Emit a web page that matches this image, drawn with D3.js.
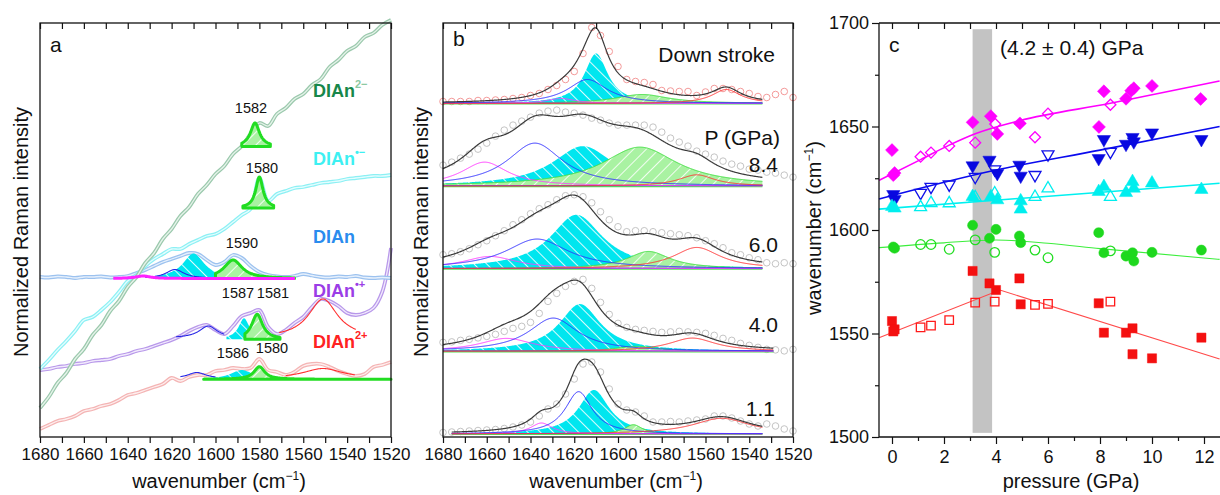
<!DOCTYPE html>
<html><head><meta charset="utf-8">
<script src="https://cdn.jsdelivr.net/npm/d3@7/dist/d3.min.js"></script>
<style>
html,body{margin:0;padding:0;background:#fff;}
svg{display:block;}
text{font-family:"Liberation Sans",Arial,Helvetica,sans-serif;fill:#111;}
</style></head><body>
<svg id="chart" width="1220" height="495"></svg>
<script>
// ================= DATA =================
// shared wavenumber grid (cm^-1) for spectra and data points
const gridW = [1680,1676,1672,1668,1664,1660,1656,1652,1648,1644,1640,1636,1632,1628,1624,1620,1616,1612,1608,1604,1600,1596,1592,1588,1584,1580,1576,1572,1568,1564,1560,1556,1552,1548,1544,1540,1536,1532,1528,1524,1520];
const wnTicksMajor = [1680,1660,1640,1620,1600,1580,1560,1540,1520];
const wnTicksAll = [1680,1670,1660,1650,1640,1630,1620,1610,1600,1590,1580,1570,1560,1550,1540,1530,1520];

// ---- panel a: spectra (normalized intensity, offset) ----
const aDianDianion = [2.9,4.0,5.4,6.4,7.8,8.8,10.2,11.2,12.6,13.6,15.0,16.0,17.4,18.4,19.8,20.8,22.1,23.0,24.3,25.2,26.3,27.1,28.3,29.1,30.3,31.4,31.1,32.3,32.9,33.8,34.3,35.2,35.8,37.0,37.7,38.6,39.1,40.0,40.4,41.2,41.7];
const aDianRadAnion = [6.8,7.7,8.7,9.6,10.6,11.7,12.0,12.7,13.5,14.5,15.6,16.2,17.1,17.8,18.3,18.8,18.8,19.3,19.7,20.1,20.3,20.8,21.5,22.2,22.8,25.9,23.6,24.3,24.6,24.9,25.0,25.2,25.4,25.5,25.6,25.8,25.9,26.0,26.1,26.1,26.2];
const aDian = [16.0,15.95,16.05,16.0,15.9,16.0,16.0,16.05,15.95,16.0,16.1,16.4,16.7,17.1,17.5,17.8,18.1,18.4,18.3,17.7,17.2,17.5,18.2,17.9,17.1,16.5,16.2,16.05,16.0,16.1,16.3,16.15,16.0,15.95,16.05,16.0,16.1,15.95,15.9,15.95,15.9];
const aDianRadCation = [6.7,6.8,7.0,7.1,7.3,7.4,7.6,7.7,7.8,8.1,8.3,8.6,8.8,9.1,9.4,9.7,10.1,10.6,11.0,11.2,10.7,10.3,11.1,12.1,12.4,12.7,11.0,10.3,10.7,11.4,12.0,13.0,13.8,13.6,13.1,12.4,12.2,12.4,12.9,14.5,18.9];
const aDianDication = [0.8,1.2,1.6,1.8,2.1,2.6,2.8,3.1,3.3,3.7,4.2,4.4,4.7,5.0,5.3,5.9,5.6,6.0,6.2,6.2,6.6,6.7,6.9,6.8,6.9,7.8,6.7,6.5,6.2,6.5,7.1,7.3,7.3,7.0,6.6,6.3,6.1,6.3,7.0,7.2,7.5];
// panel a fitted peaks: [center, height, hwhm, base, from, to]
const aGreenPeaks = [[1582,2.35,2.5,29.05,1588,1575],[1580,3.1,2,22.9,1587.5,1573.5],[1592,1.85,5,15.85,1600,1564],[1581,2.5,3,9.77,1586.6,1570.6],[1580,1.26,3,5.77,1605.4,1520]];
const aCyanPeaks = [[1610,2.5,6,15.85,1628,1594],[1587,2.1,3,9.77,1595,1582],[1588,0.93,6,5.77,1605,1583]];
const aBluePeaks = [[1618.5,0.9,5,15.85,1632,1600],[1603.3,1.2,5,9.9,1618,1596],[1608.5,0.6,5,5.85,1616,1600]];
const aRedPeaks = [[1551,3.9,8,9.9,1571,1536],[1551,1.0,11,5.85,1568,1536.5]];
const aMagentaPeaks = [[1633,0.25,4,15.85,1646.6,1563.8]];
const aPeakLabels = ["1582","1580","1590","1587","1581","1586","1580"];

// ---- panel b: data points per pressure (heights above row baseline) ----
const bDown = [2,2,2,2,3,3,3.5,4,5,6,8,10,14,18,24,32,50,76,68,52,37,24,22,21,19,13,12.5,12,12,8,11.5,15,15,14,12,10,7,6,9,12,6];
const b84 = [21,24,28,32,37,43,50,56,61,65,69,73,75,76,74,73,71,68,66,63,61,61,61,61,59,54,48,44,40,35,32,29,25,22,20,17,16,14,13,11,9];
const b60 = [14,15,17,20,24,28,33,38,44,49,55,60,64,69,73,74,72,66,57,49,42,37,38,38,37,36,35,34,33,31,28,25,21,16,14,11,9,6,5,6,5];
const b40 = [9,9.5,11,12,13.5,15,17,20,23,25,29,38,50,58,65,70,72,63,49,37,28,24,22,21,20,19,19.5,20,19.5,19,18,16,13,11,8,6,4,2,1.5,0.5,2];
const b11 = [1.5,2,2.5,3,3.5,4,4.5,5.5,7,9,12,18,25,30,40,55,70,72,62,45,30,24,22,18,12,12,12.5,12,13,14,15,18,18,16,13,10,8,10,8,5,3];
// panel b fitted components per row: [center, height, hwhm]
const bMagenta = [[1626,5,8],[1661,24,13],[1658.5,12.3,15],[1651,13,15],[1635,11,6]];
const bBlue = [[1614,24,11],[1638,43,15.5],[1637,29.7,17.5],[1629.6,33.3,13.7],[1618,42.3,7.5]];
const bCyan = [[1610,50,6.5],[1616,40,17],[1619,54,14.5],[1617.4,47.3,11.5],[1611,44,8.5]];
const bGreen = [[1589,9,15],[1590,39,21],[1586,17.3,12],[1591.5,5,12],[1593,9.3,5]];
const bRed = [[1550.5,14,8],[1564,11.3,10],[1564,21.3,13],[1566,13.3,13],[1552.6,15.7,16]];
const bFitFrom = [1680,1680,1680,1680,1676];
const bFitTo = [1534,1534,1534,1529,1534];
const bRowLabels = ["Down stroke","8.4","6.0","4.0","1.1"];

// ---- panel c: peak positions vs pressure [GPa, cm^-1] ----
const cMagFilled = [[0,1638.6],[0.1,1627.5],[0.05,1626.5],[3.1,1652],[3.8,1655],[4.05,1646.4],[4.92,1651.5],[7.96,1649.8],[8.15,1667],[9.0,1663.4],[9.2,1667.3],[9.3,1668.5],[10.0,1669.6],[11.87,1663.3]];
const cMagOpen = [[1.1,1635.4],[1.5,1637.4],[2.2,1640.6],[3.2,1642.2],[3.97,1651.2],[5.5,1644.8],[6.0,1656.2],[8.4,1660.5]];
const cBlueFilled = [[0.05,1617.2],[0.1,1614.8],[3.1,1631.1],[3.75,1633.8],[4.05,1627.4],[4.9,1631.4],[4.95,1626.1],[7.95,1634.6],[8.15,1643.8],[9.0,1641.5],[9.25,1644.8],[9.3,1642.7],[10.0,1647],[11.9,1643.8]];
const cBlueOpen = [[1.1,1618],[1.5,1620.9],[2.2,1622],[3.2,1625.7],[3.95,1629.3],[5.5,1626.6],[6.0,1636.6],[8.4,1637.8]];
const cCyanFilled = [[0,1611.3],[0.1,1610.5],[3.1,1616.1],[3.8,1616],[4.05,1614.5],[4.95,1614],[4.95,1610],[7.95,1618.5],[8.15,1620.9],[9.0,1618],[9.25,1623.3],[9.3,1620.1],[10.0,1622.6],[11.9,1619.5]];
const cCyanOpen = [[1.1,1611],[1.5,1613],[2.2,1612.9],[3.2,1615.8],[3.95,1617.7],[5.5,1616],[6.0,1620.1],[8.4,1616]];
const cGreenFilled = [[0.05,1591.8],[0.1,1591.2],[3.1,1602.3],[3.75,1596],[4.0,1600.3],[4.9,1597.1],[4.95,1593.9],[7.95,1598.7],[8.15,1589],[9.0,1587.4],[9.25,1589],[9.3,1585],[10.0,1589.2],[11.9,1590.3]];
const cGreenOpen = [[1.1,1593],[1.5,1593],[2.2,1590.7],[3.2,1595.2],[3.95,1589.2],[5.5,1590.3],[6.0,1586.6],[8.4,1589.9]];
const cRedFilled = [[0,1556],[0.1,1552],[0.05,1551],[3.1,1580.2],[3.75,1574.2],[4.0,1571],[4.9,1576.6],[4.95,1564.1],[7.95,1564.6],[8.15,1550.4],[9.0,1550.4],[9.25,1552.5],[9.25,1540],[10.0,1538],[11.9,1548]];
const cRedOpen = [[1.1,1553],[1.5,1553.8],[2.2,1556.5],[3.2,1564.9],[3.95,1565.4],[5.5,1563.8],[6.0,1564.3],[8.4,1565.4]];
const cMagFit = [[-0.5,1624],[1.1,1634],[2.2,1641],[3.2,1646.5],[4.9,1652.8],[8.4,1661.2],[12.6,1672]];
const cBlueFit = [[-0.5,1615],[4,1629],[8,1638.6],[12.6,1650]];
const cCyanFit = [[-0.5,1610.1],[12.6,1622.6]];
const cGreenFit = [[-0.5,1591.5],[2,1593.8],[4,1595.2],[6,1593.6],[8,1591],[12.6,1585.8]];
const cRedFit = [[-0.5,1548],[4.15,1571],[12.6,1537.7]];
const cBand = [3.1,3.85];
const cBandRange = [1502,1697];
const cXTicks = [0,2,4,6,8,10,12];
const cXMinor = [1,3,5,7,9,11];
const cXAll = [0,1,2,3,4,5,6,7,8,9,10,11,12];
const cYTicks = [1500,1550,1600,1650,1700];
const cYMinor = [1525,1575,1625,1675];

// ================= DRAWING =================
const svg = d3.select("#chart");
const defs = svg.append("defs");
function hatch(id, bg, angle){
  const p = defs.append("pattern").attr("id",id).attr("patternUnits","userSpaceOnUse")
    .attr("width",9).attr("height",9).attr("patternTransform",`rotate(${angle})`);
  p.append("rect").attr("width",9).attr("height",9).attr("fill",bg);
  p.append("line").attr("x1",4.5).attr("y1",-1).attr("x2",4.5).attr("y2",10)
    .attr("stroke","#fff").attr("stroke-width",1).attr("stroke-opacity",0.85);
}
hatch("hC","#00e6ef",-45);
hatch("hG","#a9f2a2",45);

const lor = (c,h,g,w) => h/(1+((w-c)/g)**2);
function samples(from,to){ const n=Math.max(2,Math.ceil(Math.abs(from-to)/0.25)); const a=[]; for(let k=0;k<=n;k++) a.push(from+(to-from)*k/n); return a; }

function wnTitle(g, x, y, rot){
  const t = g.append("text").attr("font-size",20).attr("text-anchor","middle")
    .attr("transform", rot ? `translate(${x},${y}) rotate(-90)` : `translate(${x},${y})`);
  t.append("tspan").text("wavenumber (cm");
  t.append("tspan").text("\u22121").attr("font-size",12).attr("dy",-8);
  t.append("tspan").text(")").attr("dy",8);
}
function wnAxes(g, x, top, bottom){
  const ax = d3.axisBottom(x).tickValues(wnTicksAll).tickSize(6).tickPadding(5)
    .tickFormat(d => wnTicksMajor.includes(d) ? d3.format("d")(d) : "");
  const gb = g.append("g").attr("transform",`translate(0,${bottom})`).call(ax);
  gb.select(".domain").remove();
  gb.selectAll("text").attr("font-size",17).attr("font-family",'"Liberation Sans",Arial,sans-serif').attr("fill","#111");
  gb.selectAll("line").attr("stroke","#111").attr("stroke-width",1.2);
  const gt = g.append("g").attr("transform",`translate(0,${top})`)
    .call(d3.axisBottom(x).tickValues(wnTicksAll).tickSize(6).tickFormat(""));
  gt.select(".domain").remove();
  gt.selectAll("line").attr("stroke","#111").attr("stroke-width",1.2);
}

// ---------- PANEL A ----------
const xA = d3.scaleLinear().domain([1680,1520]).range([40,391]);
const yA = d3.scaleLinear().domain([0,41.4]).range([437,23]);
const gA = svg.append("g");
const specLineA = d3.line().x((d,i)=>xA(gridW[i])).y(d=>yA(d)).curve(d3.curveCatmullRom);
[[aDianDication,"#f4b4b4","#fdeeee"],[aDianRadCation,"#b898ea","#f1eafc"],[aDian,"#9cc2ef","#e6f0fc"],
 [aDianRadAnion,"#8cf0f4","#e4fdfe"],[aDianDianion,"#9bc9ad","#e6f3ea"]].forEach(([v,c1,c2])=>{
  gA.append("path").attr("d",specLineA(v)).attr("fill","none").attr("stroke",c1).attr("stroke-width",3.8);
  gA.append("path").attr("d",specLineA(v)).attr("fill","none").attr("stroke",c2).attr("stroke-width",1.3);
});
function peakA(p){ const [c,h,g,base,from,to]=p; return samples(from,to).map(w=>({w,y0:base,y1:base+lor(c,h,g,w)})); }
const areaA = d3.area().x(d=>xA(d.w)).y0(d=>yA(d.y0)).y1(d=>yA(d.y1));
const lineA = d3.line().x(d=>xA(d.w)).y(d=>yA(d.y1));
aCyanPeaks.forEach(p=>gA.append("path").attr("d",areaA(peakA(p))).attr("fill","url(#hC)"));
aGreenPeaks.forEach(p=>gA.append("path").attr("d",areaA(peakA(p))).attr("fill","url(#hG)")
  .attr("stroke","#22dd22").attr("stroke-width",3).attr("stroke-linejoin","round"));
aBluePeaks.forEach(p=>gA.append("path").attr("d",lineA(peakA(p))).attr("fill","none").attr("stroke","#2626e6").attr("stroke-width",1.1));
aRedPeaks.forEach(p=>gA.append("path").attr("d",lineA(peakA(p))).attr("fill","none").attr("stroke","#ff3030").attr("stroke-width",1.1));
aMagentaPeaks.forEach(p=>gA.append("path").attr("d",lineA(peakA(p))).attr("fill","none").attr("stroke","#ff22ff").attr("stroke-width",3));
gA.append("rect").attr("x",40).attr("y",23).attr("width",351).attr("height",414).attr("fill","none").attr("stroke","#111").attr("stroke-width",1.3);
wnAxes(gA, xA, 23, 437);
// peak labels
const aLblPos = [[251,113],[262,173],[242,248],[238,298],[273,298],[233,358],[272,353]];
aPeakLabels.forEach((t,i)=>gA.append("text").attr("x",aLblPos[i][0]).attr("y",aLblPos[i][1]).attr("text-anchor","middle").attr("font-size",14.5).text(t));
function species(g,x,y,main,sup,col,supCol){
  const t=g.append("text").attr("x",x).attr("y",y).attr("font-size",18).attr("font-weight","bold").style("fill",col);
  t.append("tspan").text(main);
  t.append("tspan").text(sup).attr("font-size",11).attr("dy",-9).style("fill",supCol||col);
}
species(gA,313,97,"DIAn","2\u2212","#17874a","#8cc9a2");
species(gA,313,165,"DIAn","\u2022\u2212","#3df0f2");
species(gA,313,243,"DIAn","","#2a8cee");
species(gA,313,297,"DIAn","\u2022+","#9b3de6");
species(gA,313,348,"DIAn","2+","#ff2222");
gA.append("text").attr("x",50).attr("y",52).attr("font-size",21).text("a");
gA.append("text").attr("font-size",20).attr("text-anchor","middle").attr("transform","translate(28,232) rotate(-90)").text("Normalized Raman intensity");
wnTitle(gA,219,488,false);

// ---------- PANEL B ----------
const xB = d3.scaleLinear().domain([1680,1520]).range([443,793]);
const rowBase = d3.scaleLinear().domain([0,4]).range([103.5,434]);
const gB = svg.append("g");
const bRows = [bDown,b84,b60,b40,b11];
bRows.forEach((pts,i)=>{
  const base = rowBase(i);
  const yB = d3.scaleLinear().domain([0,80]).range([base,base-80]);
  const gr = gB.append("g");
  gr.selectAll("circle").data(pts).join("circle")
    .attr("cx",(d,k)=>xB(gridW[k])).attr("cy",d=>yB(d)).attr("r",3.3)
    .attr("fill","none").attr("stroke", i===0 ? "#f49a9a" : "#c4c4c4").attr("stroke-width",1);
  const ws = samples(bFitFrom[i], bFitTo[i]);
  const comp = p => ws.map(w=>({w, v: lor(p[0],p[1],p[2],w)}));
  const area = d3.area().x(d=>xB(d.w)).y0(yB(0)).y1(d=>yB(d.v));
  const line = d3.line().x(d=>xB(d.w)).y(d=>yB(d.v));
  gr.append("path").attr("d",area(comp(bCyan[i]))).attr("fill","url(#hC)");
  gr.append("path").attr("d",area(comp(bGreen[i]))).attr("fill","url(#hG)");
  gr.append("path").attr("d",line(comp(bGreen[i]))).attr("fill","none").attr("stroke","#3fe03f").attr("stroke-width",1);
  gr.append("line").attr("x1",xB(bFitFrom[i])).attr("x2",xB(bFitTo[i])).attr("y1",yB(0)).attr("y2",yB(0)).attr("stroke","#55e055").attr("stroke-width",2);
  gr.append("line").attr("x1",xB(bFitFrom[i])).attr("x2",xB(bFitTo[i])).attr("y1",yB(0)-0.5).attr("y2",yB(0)-0.5).attr("stroke","#7b3cf0").attr("stroke-width",1);
  gr.append("path").attr("d",line(comp(bMagenta[i]))).attr("fill","none").attr("stroke","#ff3cff").attr("stroke-width",1);
  gr.append("path").attr("d",line(comp(bBlue[i]))).attr("fill","none").attr("stroke","#3030ff").attr("stroke-width",1);
  gr.append("path").attr("d",line(comp(bRed[i]))).attr("fill","none").attr("stroke","#ff3434").attr("stroke-width",1);
  const env = ws.map(w=>({w, v: [bMagenta[i],bBlue[i],bCyan[i],bGreen[i],bRed[i]].reduce((s,p)=>s+lor(p[0],p[1],p[2],w),0)}));
  gr.append("path").attr("d",line(env)).attr("fill","none").attr("stroke","#3a3a3a").attr("stroke-width",1.2);
});
gB.append("rect").attr("x",443).attr("y",23).attr("width",350).attr("height",414).attr("fill","none").attr("stroke","#111").attr("stroke-width",1.3);
wnAxes(gB, xB, 23, 437);
const bLblPos = [[775,62],[778,172],[778,252],[778,332],[775,416]];
bRowLabels.forEach((t,i)=>gB.append("text").attr("x",bLblPos[i][0]).attr("y",bLblPos[i][1]).attr("text-anchor","end").attr("font-size",21).text(t));
gB.append("text").attr("x",780).attr("y",145).attr("text-anchor","end").attr("font-size",21).text("P (GPa)");
gB.append("text").attr("x",453).attr("y",46).attr("font-size",21).text("b");
gB.append("text").attr("font-size",20).attr("text-anchor","middle").attr("transform","translate(428,232) rotate(-90)").text("Normalized Raman intensity");
wnTitle(gB,616,488,false);

// ---------- PANEL C ----------
const xC = d3.scaleLinear().domain([-0.5,12.6]).range([879,1219.6]);
const yC = d3.scaleLinear().domain([1500,1700]).range([437,23]);
const gC = svg.append("g");
gC.append("rect").attr("x",xC(cBand[0])).attr("width",xC(cBand[1])-xC(cBand[0]))
  .attr("y",yC(cBandRange[1])).attr("height",yC(cBandRange[0])-yC(cBandRange[1])).attr("fill","#c3c3c3");
const fitCurve = d3.line().x(d=>xC(d[0])).y(d=>yC(d[1])).curve(d3.curveMonotoneX);
const fitLin = d3.line().x(d=>xC(d[0])).y(d=>yC(d[1]));
[[cMagFit,"#ff00ff",1.6,fitCurve],[cBlueFit,"#0a0aee",1.6,fitCurve],[cCyanFit,"#00f0f0",1.6,fitLin],[cGreenFit,"#3cee3c",1.1,fitCurve],[cRedFit,"#ff4a4a",1.1,fitLin]].forEach(([d,c,w,gen])=>{
  gC.append("path").attr("d",gen(d)).attr("fill","none").attr("stroke",c).attr("stroke-width",w);
});
function markers(data, type, size, rot, color, filled){
  const s = d3.symbol().type(type).size(size);
  gC.append("g").selectAll("path").data(data).join("path")
    .attr("d",s).attr("transform",d=>`translate(${xC(d[0])},${yC(d[1])}) rotate(${rot})`)
    .attr("fill", filled ? color : "none").attr("stroke",color).attr("stroke-width", filled ? 0.5 : 1.3);
}
markers(cMagOpen, d3.symbolSquare, 60, 45, "#ff00ff", false);
markers(cBlueOpen, d3.symbolTriangle, 62, 180, "#1010e8", false);
markers(cCyanOpen, d3.symbolTriangle, 62, 0, "#00eeee", false);
markers(cGreenOpen, d3.symbolCircle, 72, 0, "#22dd22", false);
markers(cRedOpen, d3.symbolSquare, 72, 0, "#ff1a1a", false);
markers(cMagFilled, d3.symbolSquare, 84, 45, "#ff00ff", true);
markers(cBlueFilled, d3.symbolTriangle, 76, 180, "#0808e0", true);
markers(cCyanFilled, d3.symbolTriangle, 76, 0, "#00eeee", true);
markers(cGreenFilled, d3.symbolCircle, 80, 0, "#1ed81e", true);
markers(cRedFilled, d3.symbolSquare, 84, 0, "#f41010", true);
gC.append("line").attr("x1",879).attr("x2",879).attr("y1",23).attr("y2",437).attr("stroke","#111").attr("stroke-width",1.3);
gC.append("line").attr("x1",879).attr("x2",1220).attr("y1",437).attr("y2",437).attr("stroke","#111").attr("stroke-width",1.3);
gC.append("line").attr("x1",879).attr("x2",1220).attr("y1",23).attr("y2",23).attr("stroke","#111").attr("stroke-width",1.3);
const styleAx = g => { g.select(".domain").remove(); g.selectAll("line").attr("stroke","#111").attr("stroke-width",1.2);
  g.selectAll("text").attr("font-size",18).attr("font-family",'"Liberation Sans",Arial,sans-serif').attr("fill","#111"); };
gC.append("g").attr("transform","translate(0,437)").call(d3.axisBottom(xC).tickValues(cXTicks).tickSize(7).tickPadding(6).tickFormat(d3.format("d"))).call(styleAx);
gC.append("g").attr("transform","translate(0,437)").call(d3.axisBottom(xC).tickValues(cXMinor).tickSize(4).tickFormat("")).call(styleAx);
gC.append("g").attr("transform","translate(0,23)").call(d3.axisBottom(xC).tickValues(cXAll).tickSize(6).tickFormat("")).call(styleAx);
gC.append("g").attr("transform","translate(879,0)").call(d3.axisLeft(yC).tickValues(cYTicks).tickSize(7).tickPadding(3).tickFormat(d3.format("d"))).call(styleAx);
gC.append("g").attr("transform","translate(879,0)").call(d3.axisLeft(yC).tickValues(cYMinor).tickSize(4).tickFormat("")).call(styleAx);
gC.append("text").attr("x",889).attr("y",52).attr("font-size",21).text("c");
gC.append("text").attr("x",1000).attr("y",55).attr("font-size",21).text("(4.2 \u00b1 0.4) GPa");
gC.append("text").attr("x",1071).attr("y",488).attr("text-anchor","middle").attr("font-size",20).text("pressure (GPa)");
wnTitle(gC,821,228,true);
</script>
</body></html>
